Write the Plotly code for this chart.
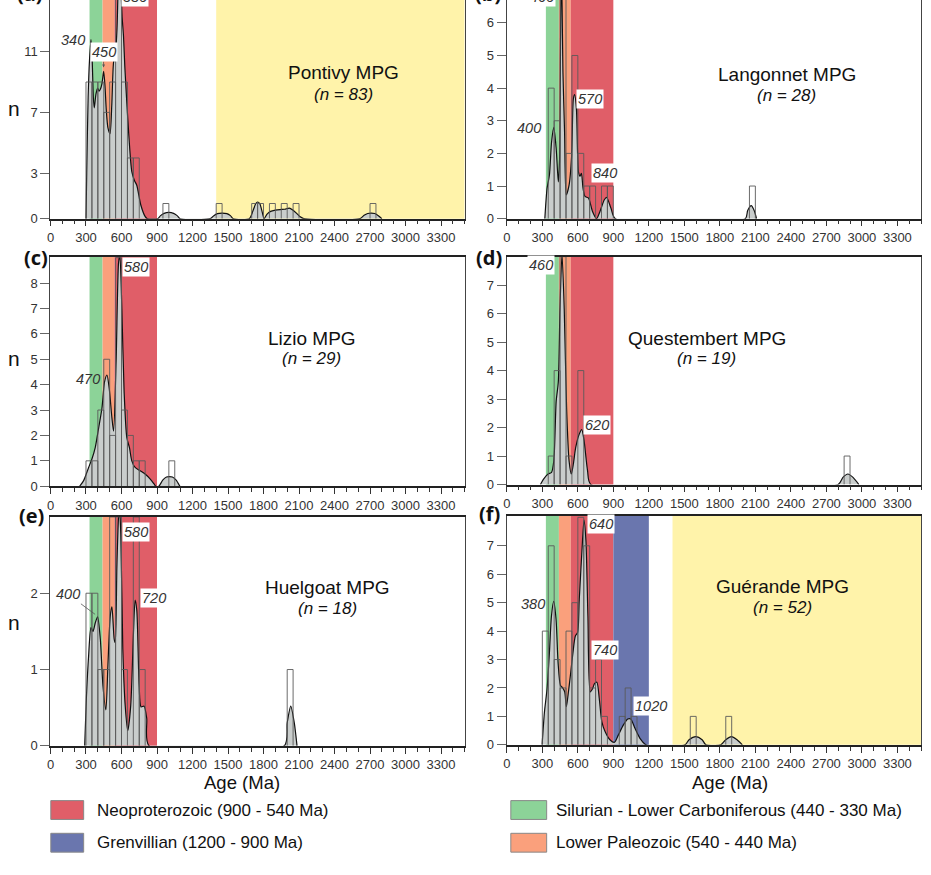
import plotly.graph_objects as go

# ---------------- data ----------------
age_ticks = [0, 300, 600, 900, 1200, 1500, 1800, 2100, 2400, 2700, 3000, 3300]

# histogram bins (bin start, Ma; width 50) and counts
hist_a_bins = [300, 350, 400, 450, 500, 550, 600, 650, 700, 950, 1400, 1700, 1750, 1850, 1950, 2050, 2700]
hist_a_counts = [9, 9, 9, 7, 9, 24, 9, 4, 4, 1, 1, 1, 1, 1, 1, 1, 1]
hist_b_bins = [350, 400, 450, 500, 550, 600, 650, 700, 800, 850, 2050]
hist_b_counts = [4, 3, 7, 2, 5, 2, 1, 1, 1, 1, 1]
hist_c_bins = [300, 350, 400, 450, 500, 550, 600, 650, 700, 750, 1000]
hist_c_counts = [1, 1, 3, 5, 2, 9, 3, 2, 1, 1, 1]
hist_d_bins = [350, 400, 450, 500, 600, 2850]
hist_d_counts = [1, 4, 8, 1, 4, 1]
hist_e_bins = [300, 350, 400, 450, 500, 550, 600, 700, 750, 2000]
hist_e_counts = [2, 2, 1, 1, 3, 3, 1, 3, 1, 1]
hist_f_bins = [300, 350, 400, 450, 500, 550, 600, 650, 700, 750, 800, 950, 1000, 1050, 1550, 1850]
hist_f_counts = [4, 7, 3, 2, 4, 5, 8, 7, 2, 3, 1, 1, 2, 1, 1, 1]

# probability density curves
kde_a_x = [300, 306, 318, 330, 342, 352, 362, 370, 384, 398, 410, 420, 435, 449, 460, 471, 485, 503, 518, 533,
           548, 562, 578, 592, 605, 617, 628, 640, 660, 687, 710, 729, 763, 799, 818,
           905, 930, 960, 1000, 1040, 1070, 1095,
           1350, 1380, 1410, 1450, 1490, 1520, 1545,
           1680, 1710, 1735, 1750, 1768, 1790, 1805,
           1830, 1860, 1900, 1940, 1980, 2018, 2050, 2080, 2110, 2140,
           2615, 2650, 2680, 2710, 2740, 2770, 2800]
kde_a_y = [0, 3, 8, 10.5, 11.8, 10.5, 8.0, 7.3, 8.2, 8.6, 8.4, 8.5, 8.9, 9.7, 8.8, 7.2, 6.0, 5.6, 7.5, 10.3,
           10.8, 12.5, 16, 15.5, 13.3, 12.0, 10.0, 8.3, 5.7, 3.1, 2.5, 2.2, 0.9, 0.15, 0,
           0, 0.2, 0.35, 0.41, 0.35, 0.2, 0,
           0, 0.2, 0.33, 0.37, 0.33, 0.2, 0,
           0, 0.5, 1.0, 1.1, 1.0, 0.4, 0,
           0.3, 0.48, 0.56, 0.6, 0.62, 0.7, 0.55, 0.35, 0.12, 0,
           0, 0.22, 0.34, 0.37, 0.34, 0.2, 0]

kde_b_x = [321, 340, 360, 378, 397, 417, 435, 446, 453, 460, 467, 474, 488, 502, 526, 548, 562, 573, 588, 605,
           618, 630, 644, 661, 690, 724, 758, 787, 824, 844, 880, 917,
           2015, 2035, 2065, 2090, 2110]
kde_b_y = [0, 0.93, 1.34, 2.35, 2.8, 2.15, 1.13, 1.84, 5.0, 7.6, 6.5, 4.5, 2.65, 0.73, 1.03, 1.94, 3.66, 3.8, 3.36, 1.44,
           1.3, 1.39, 0.93, 0.68, 0.63, 0.22, 0, 0.22, 0.58, 0.65, 0.32, 0,
           0, 0.25, 0.4, 0.25, 0]

kde_c_x = [247, 280, 322, 350, 378, 407, 435, 457, 477, 496, 519, 533, 555, 575, 586, 603, 622, 645, 667, 687,
           715, 757, 799, 841, 875, 889,
           915, 950, 980, 1004, 1030, 1060, 1093]
kde_c_y = [0, 0.22, 0.74, 1.07, 1.52, 2.3, 3.08, 4.12, 4.38, 3.86, 2.69, 2.17, 5.03, 8.8, 9.1, 6.98, 3.73, 1.91, 1.52, 1.0,
           0.74, 0.61, 0.48, 0.29, 0.09, 0,
           0, 0.25, 0.36, 0.38, 0.36, 0.25, 0]

kde_d_x = [284, 312, 349, 378, 397, 417, 435, 449, 466, 485, 505, 526, 545, 562, 582, 611, 633, 653, 682, 710,
           2800, 2840, 2882, 2925, 2975]
kde_d_y = [0, 0.2, 0.37, 0.43, 0.83, 2.92, 3.6, 6.16, 8.1, 6.16, 2.69, 0.83, 0.37, 0.72, 1.3, 1.76, 1.93, 1.53, 0.49, 0,
           0, 0.25, 0.37, 0.25, 0]

kde_e_x = [289, 303, 322, 342, 359, 378, 398, 421, 443, 468, 485, 505, 519, 538, 547, 561, 575, 583, 594, 611,
           631, 653, 678, 701, 715, 729, 749, 765, 791, 813, 833,
           1976, 2000, 2030, 2060, 2083]
kde_e_y = [0, 0.62, 1.18, 1.55, 1.5, 1.61, 1.69, 1.40, 0.79, 0.47, 1.05, 1.7, 1.82, 1.40, 1.35, 2.35, 3.0, 3.1, 2.78, 1.27,
           0.53, 0.2, 0.53, 1.48, 1.91, 1.78, 0.79, 0.51, 0.52, 0.36, 0,
           0, 0.3, 0.52, 0.3, 0]

kde_f_x = [298, 318, 340, 360, 377, 396, 416, 433, 453, 472, 489, 503, 517, 537, 556, 579, 598, 612, 635, 652,
           668, 685, 705, 724, 741, 761, 781, 803, 831, 873, 910, 943, 985, 1022, 1047, 1083, 1125, 1176,
           1505, 1540, 1598, 1650, 1682,
           1808, 1850, 1898, 1945, 1990]
kde_f_y = [0, 1.16, 1.97, 3.25, 4.53, 5.05, 4.41, 2.9, 2.09, 2.0, 1.86, 1.34, 1.74, 2.44, 3.14, 3.83, 3.95, 5.11, 6.85, 7.9,
           7.2, 4.53, 1.86, 1.97, 2.15, 2.2, 1.63, 0.81, 0.46, 0.17, 0.09, 0.35, 0.7, 0.91, 0.91, 0.58, 0.23, 0,
           0, 0.18, 0.29, 0.18, 0,
           0, 0.18, 0.29, 0.18, 0]

# age intervals (Ma)
intervals = {
    "Neoproterozoic (900 - 540 Ma)": (540, 900),
    "Grenvillian (1200 - 900 Ma)": (900, 1200),
    "Silurian - Lower Carboniferous (440 - 330 Ma)": (330, 440),
    "Lower Paleozoic (540 - 440 Ma)": (440, 540),
    "Paleoproterozoic": (1400, 3500),
}
interval_colors = {
    "Neoproterozoic (900 - 540 Ma)": "#E05E68",
    "Grenvillian (1200 - 900 Ma)": "#6A76AE",
    "Silurian - Lower Carboniferous (440 - 330 Ma)": "#8CD398",
    "Lower Paleozoic (540 - 440 Ma)": "#FAA07C",
    "Paleoproterozoic": "#FFF3AA",
}

panel_names = ["Pontivy MPG", "Langonnet MPG", "Lizio MPG", "Questembert MPG", "Huelgoat MPG", "Guérande MPG"]
panel_n = [83, 28, 29, 19, 18, 52]
panel_letters = ["(a)", "(b)", "(c)", "(d)", "(e)", "(f)"]

# ---------------- layout helpers ----------------
W, H = 931, 875
FONT = "Liberation Sans, Arial, sans-serif"


def px(x):
    return x / W


def py(y):
    return 1 - y / H


def label(text, x, y, size, color="#111", family=FONT, **kw):
    d = dict(text=text, x=px(x), y=py(y), xref="paper", yref="paper", showarrow=False,
             xanchor="center", yanchor="middle", font=dict(family=family, size=size, color=color))
    d.update(kw)
    return d


panels = [
    dict(hb=hist_a_bins, hc=hist_a_counts, kx=kde_a_x, ky=kde_a_y, yr=14.4, yt=[0, 3, 7, 11],
         bands=["Silurian - Lower Carboniferous (440 - 330 Ma)", "Lower Paleozoic (540 - 440 Ma)",
                "Neoproterozoic (900 - 540 Ma)", "Paleoproterozoic"],
         xd=(46.7, 462.7), yd=(0, 220.7), top=False,
         title=(340.7, 72.7, 95), letter=(26, -7)),
    dict(hb=hist_b_bins, hc=hist_b_counts, kx=kde_b_x, ky=kde_b_y, yr=6.7, yt=list(range(0, 7)),
         bands=["Silurian - Lower Carboniferous (440 - 330 Ma)", "Lower Paleozoic (540 - 440 Ma)",
                "Neoproterozoic (900 - 540 Ma)"],
         xd=(505, 921), yd=(0, 220.7), top=False,
         title=(786, 74.7, 96), letter=(486, -7)),
    dict(hb=hist_c_bins, hc=hist_c_counts, kx=kde_c_x, ky=kde_c_y, yr=9.03, yt=list(range(0, 9)),
         bands=["Silurian - Lower Carboniferous (440 - 330 Ma)", "Lower Paleozoic (540 - 440 Ma)",
                "Neoproterozoic (900 - 540 Ma)"],
         xd=(46.7, 462.7), yd=(259.3, 490.7), top=True,
         title=(309, 342, 362), letter=(32, 260)),
    dict(hb=hist_d_bins, hc=hist_d_counts, kx=kde_d_x, ky=kde_d_y, yr=8.0, yt=list(range(0, 8)),
         bands=["Silurian - Lower Carboniferous (440 - 330 Ma)", "Lower Paleozoic (540 - 440 Ma)",
                "Neoproterozoic (900 - 540 Ma)"],
         xd=(505, 921), yd=(259, 489), top=True,
         title=(706, 341.7, 362.3), letter=(487, 260)),
    dict(hb=hist_e_bins, hc=hist_e_counts, kx=kde_e_x, ky=kde_e_y, yr=3.0, yt=[0, 1, 2],
         bands=["Silurian - Lower Carboniferous (440 - 330 Ma)", "Lower Paleozoic (540 - 440 Ma)",
                "Neoproterozoic (900 - 540 Ma)"],
         xd=(46.7, 462.7), yd=(521.7, 752.7), top=True,
         title=(325, 593, 614), letter=(28, 520)),
    dict(hb=hist_f_bins, hc=hist_f_counts, kx=kde_f_x, ky=kde_f_y, yr=8.05, yt=list(range(0, 8)),
         bands=["Silurian - Lower Carboniferous (440 - 330 Ma)", "Lower Paleozoic (540 - 440 Ma)",
                "Neoproterozoic (900 - 540 Ma)", "Grenvillian (1200 - 900 Ma)", "Paleoproterozoic"],
         xd=(505, 921), yd=(520.7, 751.7), top=True,
         title=(782, 591.7, 612.7), letter=(488, 518)),
]

fig = go.Figure()
shapes = []
annotations = []
layout_axes = {}

BIN_W = 50
for i, p in enumerate(panels):
    k = "" if i == 0 else str(i + 1)
    xref, yref = "x" + k, "y" + k

    # age-interval bands
    for b in p["bands"]:
        a0, a1 = intervals[b]
        shapes.append(dict(type="rect", xref=xref, yref=yref + " domain", x0=a0, x1=a1, y0=0, y1=1,
                           fillcolor=interval_colors[b], line=dict(width=0), layer="below"))

    # density curve
    fig.add_trace(go.Scatter(x=p["kx"], y=p["ky"], mode="lines", xaxis=xref, yaxis=yref,
                             line=dict(color="#111", width=1.2, shape="spline", smoothing=0.7),
                             fill="tozeroy", fillcolor="#C9CDCC", hoverinfo="skip", showlegend=False))

    # histogram outlines (drawn on top of the curve)
    hx, hy = [], []
    for s, c in zip(p["hb"], p["hc"]):
        hx += [s, s, s + BIN_W, s + BIN_W, None]
        hy += [0, c, c, 0, None]
    fig.add_trace(go.Scatter(x=hx, y=hy, mode="lines", xaxis=xref, yaxis=yref,
                             line=dict(color="#5a5a5a", width=0.9), hoverinfo="skip", showlegend=False))

    xa = dict(domain=[px(p["xd"][0]), px(p["xd"][1])], range=[0, 3500], anchor=yref,
              tickmode="array", tickvals=age_ticks, ticks="outside", ticklen=6, tickcolor="#333",
              tickfont=dict(family=FONT, size=13, color="#333"),
              minor=dict(tickmode="linear", tick0=0, dtick=100, ticks="outside", ticklen=4, tickcolor="#333"),
              showline=True, linecolor="#222", linewidth=1.6, mirror=p["top"], showgrid=False, zeroline=False)
    ya = dict(domain=[py(p["yd"][1]), py(p["yd"][0])], range=[0, p["yr"]], anchor=xref,
              tickmode="array", tickvals=p["yt"], ticks="outside", ticklen=9, tickcolor="#666",
              tickfont=dict(family=FONT, size=13, color="#333"),
              showline=True, linecolor="#444", linewidth=1.4, mirror=True, showgrid=False, zeroline=False)
    layout_axes["xaxis" + k] = xa
    layout_axes["yaxis" + k] = ya

    # panel titles
    tx, ty1, ty2 = p["title"]
    annotations.append(label(panel_names[i], tx, ty1, 19))
    annotations.append(label("<i>(n = %d)</i>" % panel_n[i], tx, ty2, 17))
    lx, ly = p["letter"]
    annotations.append(label("<b>%s</b>" % panel_letters[i], lx, ly, 20, family="Open Sans, sans-serif"))

# peak labels: (text, x px, y px, white box)
peak_labels = [
    ("340", 69.5, 40, False), ("580", 132, -3, True),
    ("460", 540, -3, True), ("400", 527, 129, False), ("570", 589, 100, True), ("840", 604, 175, True),
    ("580", 133, 269, True), ("470", 84, 383, False),
    ("460", 539.5, 267.7, True), ("620", 596, 429, True),
    ("580", 132.3, 537.3, True), ("720", 150.8, 604, True),
    ("640", 599.7, 529, True), ("380", 531.7, 610, False), ("740", 603.3, 655.7, True), ("1020", 650, 713, True),
]
for t, x, y, box in peak_labels:
    annotations.append(label("<i>%s</i>" % t, x, y, 14.5, color="#333",
                             bgcolor="white" if box else None, borderpad=1))

# labels with pointer lines
annotations.append(dict(text="<i>450</i>", x=px(100), y=py(68), xref="paper", yref="paper", showarrow=True,
                        ax=0, ay=-15, arrowhead=2, arrowsize=0.7, arrowwidth=0.8, arrowcolor="#555",
                        font=dict(family=FONT, size=14.5, color="#333"), bgcolor="white", borderpad=1))
annotations.append(dict(text="<i>400</i>", x=px(91.5), y=py(620), xref="paper", yref="paper", showarrow=True,
                        ax=-27, ay=-20, arrowhead=0, arrowwidth=0.8, arrowcolor="#555",
                        font=dict(family=FONT, size=14.5, color="#333"), borderpad=1))

# axis titles
for ny in [110, 362, 628]:
    annotations.append(label("n", 10, ny, 21))
for ax_x in [239, 729]:
    annotations.append(label("Age (Ma)", ax_x, 790, 18.5))

# legend (boxes + text)
legend_items = [
    ("Neoproterozoic (900 - 540 Ma)", 47, 80, 808, 827, 91),
    ("Grenvillian (1200 - 900 Ma)", 47, 80, 841, 860, 91),
    ("Silurian - Lower Carboniferous (440 - 330 Ma)", 509, 545, 808, 827, 552),
    ("Lower Paleozoic (540 - 440 Ma)", 509, 545, 841, 860, 552),
]
for name, x0, x1, y0, y1, tx in legend_items:
    shapes.append(dict(type="rect", xref="paper", yref="paper", x0=px(x0), x1=px(x1), y0=py(y1), y1=py(y0),
                       fillcolor=interval_colors[name], line=dict(color="#888", width=1)))
    annotations.append(label(name, tx, (y0 + y1) / 2, 17, xanchor="left"))

fig.update_layout(width=W, height=H, margin=dict(l=0, r=0, t=0, b=0), paper_bgcolor="white",
                  plot_bgcolor="white", showlegend=False, shapes=shapes, annotations=annotations, **layout_axes)

fig.write_html("out.html")
